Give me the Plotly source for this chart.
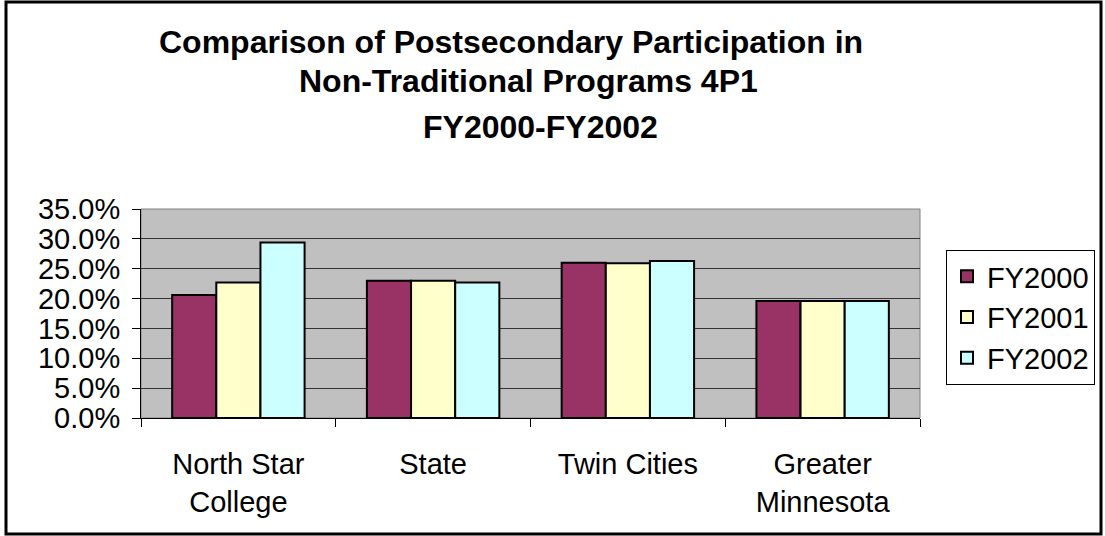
import plotly.graph_objects as go

categories = ["North Star<br>College", "State", "Twin Cities", "Greater<br>Minnesota"]
series_names = ["FY2000", "FY2001", "FY2002"]
fy2000 = [20.6, 23.0, 26.0, 19.6]
fy2001 = [22.7, 23.0, 25.9, 19.6]
fy2002 = [29.4, 22.7, 26.3, 19.6]
colors = ["#993366", "#FFFFCC", "#CCFFFF"]
y_ticks = [0, 5, 10, 15, 20, 25, 30, 35]
title_lines = ["Comparison of Postsecondary Participation in",
               "Non-Traditional Programs 4P1",
               "FY2000-FY2002"]

FONT = "Liberation Sans, Arial, sans-serif"

fig = go.Figure()
for name, vals, col in zip(series_names, [fy2000, fy2001, fy2002], colors):
    fig.add_trace(go.Bar(
        x=categories, y=vals, name=name,
        marker=dict(color=col, line=dict(color="black", width=2)),
    ))

L, R, T, B = 141, 185, 209, 118
W, H = 1105, 536
pw, ph = W - L - R, H - T - B

def px_to_paper_x(px):
    return (px - L) / pw

def px_to_paper_y(py):
    return (H - B - py) / ph

fig.update_layout(
    width=W, height=H,
    margin=dict(l=L, r=R, t=T, b=B, pad=0, autoexpand=False),
    paper_bgcolor="white",
    plot_bgcolor="#C0C0C0",
    barmode="group",
    bargap=0.32,
    bargroupgap=0,
    font=dict(family=FONT, color="black"),
    showlegend=True,
    legend=dict(
        x=px_to_paper_x(946), y=px_to_paper_y(250),
        xanchor="left", yanchor="top",
        bgcolor="white", bordercolor="black", borderwidth=1,
        font=dict(size=29, family=FONT),
        tracegroupgap=0,
    ),
    xaxis=dict(
        type="category",
        tickson="boundaries",
        ticks="outside", ticklen=8, tickcolor="black", tickwidth=1,
        showline=True, linecolor="black", linewidth=1,
        showgrid=False,
        tickfont=dict(size=29, family=FONT),
        ticklabelstandoff=20,
    ),
    yaxis=dict(
        range=[0, 35],
        tickvals=y_ticks,
        ticktext=[f"{v:.1f}%" for v in y_ticks],
        ticks="outside", ticklen=8, tickcolor="black", tickwidth=1,
        showline=True, linecolor="black", linewidth=1,
        showgrid=True, gridcolor="#333333", gridwidth=1,
        zeroline=False,
        tickfont=dict(size=29, family=FONT),
        ticklabelstandoff=6,
    ),
)

# plot area border (top/right in grey)
fig.add_shape(type="rect", xref="paper", yref="paper", x0=0, x1=1, y0=0, y1=1,
              line=dict(color="#808080", width=1), layer="below")

# outer chart frame
fig.add_shape(type="rect", xref="paper", yref="paper",
              x0=px_to_paper_x(6), x1=px_to_paper_x(1101),
              y0=px_to_paper_y(534), y1=px_to_paper_y(2),
              line=dict(color="black", width=3))

title_x_px = [511, 528, 540]
title_y_px = [42, 81, 127]
for txt, xpx, ypx in zip(title_lines, title_x_px, title_y_px):
    fig.add_annotation(text=f"<b>{txt}</b>", xref="paper", yref="paper",
                       x=px_to_paper_x(xpx), y=px_to_paper_y(ypx),
                       xanchor="center", yanchor="middle", showarrow=False,
                       font=dict(size=32, family=FONT, color="black"))

fig.write_html("out.html", config={"displayModeBar": False},
               post_script="document.body.style.margin='0';document.body.style.overflow='hidden';")
